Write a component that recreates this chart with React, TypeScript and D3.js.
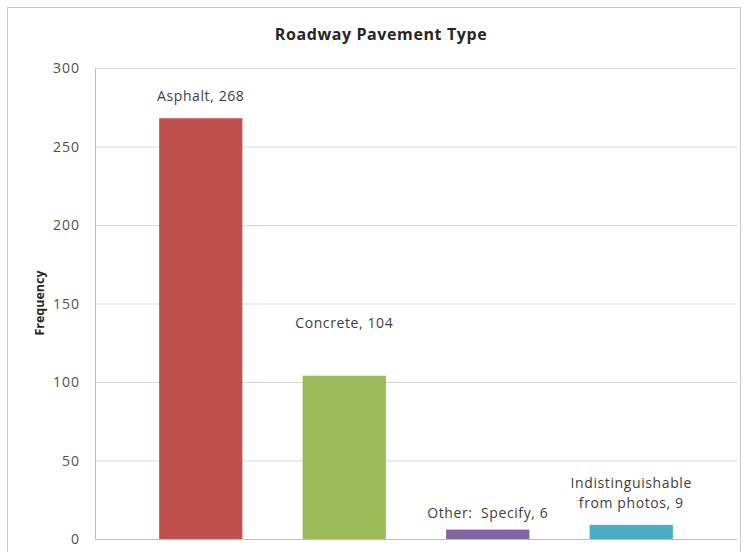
import React from "react";
import * as d3 from "d3";

const categories = ["Asphalt", "Concrete", "Other:  Specify", "Indistinguishable from photos"];
const labelLines = [["Asphalt, 268"], ["Concrete, 104"], ["Other:  Specify, 6"], ["Indistinguishable", "from photos, 9"]];
const values = [268, 104, 6, 9];
const colors = ["#C0504D", "#9BBB59", "#8064A2", "#4BACC6"];
const yTicks = [0, 50, 100, 150, 200, 250, 300];
// vertical gap between bar top and its label baseline
const labelGaps = [17, 48, 12, 17];

const W = 743;
const H = 552;
const FONT = "'Open Sans', Lato, sans-serif";

export default function App() {
  const plotLeft = 95;
  const plotRight = 737;
  const x = d3
    .scaleBand<string>()
    .domain(categories)
    .range([129, 703])
    .paddingInner(0.42)
    .paddingOuter(0.21);
  const y = d3.scaleLinear().domain([0, 300]).range([539, 68]);

  return (
    <svg
      width={W}
      height={H}
      style={{ position: "absolute", left: 0, top: 0, background: "#fff" }}
      fontFamily={FONT}
    >
      <rect x={7.5} y={7.5} width={733} height={560} fill="#fff" stroke="#c8c8c8" strokeWidth={1} />
      <text x={381} y={40} textAnchor="middle" fontSize={16} fontWeight="bold" fill="#262626" letterSpacing={0.6}>
        Roadway Pavement Type
      </text>
      {yTicks.map((t) => (
        <g key={t}>
          <line
            x1={plotLeft}
            x2={plotRight}
            y1={y(t) + 0.5}
            y2={y(t) + 0.5}
            stroke={t === 0 ? "#bfbfbf" : "#d9d9d9"}
            strokeWidth={1}
          />
          <text x={80} y={y(t) + 5} textAnchor="end" fontSize={14} fill="#505050" letterSpacing={1}>
            {t}
          </text>
        </g>
      ))}
      <line x1={plotLeft + 0.5} x2={plotLeft + 0.5} y1={y(300)} y2={y(0)} stroke="#bfbfbf" />
      <text
        transform={`translate(44,${303}) rotate(-90)`}
        textAnchor="middle"
        fontSize={12.5}
        fontWeight="bold"
        fill="#262626"
      >
        Frequency
      </text>
      {categories.map((c, i) => {
        const bx = x(c)!;
        const bw = x.bandwidth();
        const top = y(values[i]);
        const lines = labelLines[i];
        const baseY = top - labelGaps[i];
        return (
          <g key={c}>
            <rect x={bx} y={top} width={bw} height={y(0) - top} fill={colors[i]} />
            <text
              textAnchor="middle"
              fontSize={14}
              fill="#404040"
              letterSpacing={0.6}
              style={{ whiteSpace: "pre" }}
            >
              {lines.map((ln, j) => (
                <tspan key={j} x={bx + bw / 2} y={baseY - (lines.length - 1 - j) * 20}>
                  {ln}
                </tspan>
              ))}
            </text>
          </g>
        );
      })}
    </svg>
  );
}
